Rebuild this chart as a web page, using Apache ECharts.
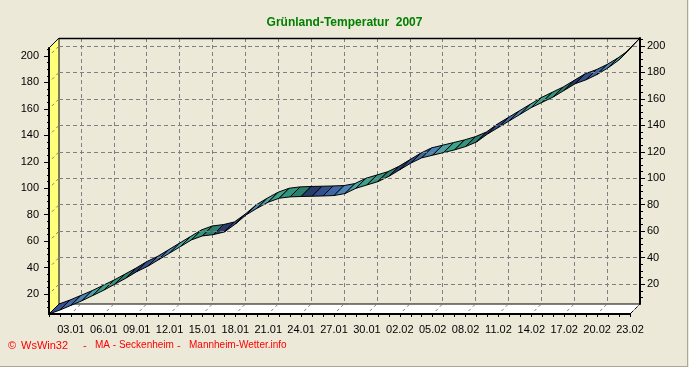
<!DOCTYPE html>
<html><head><meta charset="utf-8">
<script src="https://cdn.jsdelivr.net/npm/echarts@6/dist/echarts.min.js"></script>
<style>
html,body{margin:0;padding:0;background:#ECE9D8;}
#c{width:689px;height:367px;position:absolute;left:0;top:0;}
#f{position:absolute;left:0;top:0;width:688px;height:367px;box-sizing:border-box;border-right:1px solid #ACA899;border-bottom:1px solid #ACA899;pointer-events:none;}
</style>
</head><body><div id="c"></div><div id="f"></div>
<script>
// ---- data ----
const dates = ['01.01','02.01','03.01','04.01','05.01','06.01','07.01','08.01','09.01','10.01',
  '11.01','12.01','13.01','14.01','15.01','16.01','17.01','18.01','19.01','20.01',
  '21.01','22.01','23.01','24.01','25.01','26.01','27.01','28.01','29.01','30.01','31.01',
  '01.02','02.02','03.02','04.02','05.02','06.02','07.02','08.02','09.02','10.02',
  '11.02','12.02','13.02','14.02','15.02','16.02','17.02','18.02','19.02','20.02',
  '21.02','22.02','23.02'];
const values = [5, 8, 11.5, 15, 19, 23, 27.5, 32, 37, 41,
  46, 51, 56, 61, 64, 65, 67, 73, 80, 85,
  89.5, 92.5, 93.5, 93.8, 94, 94.2, 94.5, 96, 100, 102.5, 105,
  109, 114, 119, 123, 125, 127, 129, 131.5, 135, 141,
  146, 151, 156, 161, 165, 169, 174, 179, 182, 186,
  191, 197, 206];
const yTicks = [20, 40, 60, 80, 100, 120, 140, 160, 180, 200];
const titleText = 'Grünland-Temperatur  2007';

// ---- style / layout ----
const YMIN = 5, YMAX = 206;
const DX = 10, DY = 10;
const N = dates.length;
const minorTicks = [];
for (let v = 10; v <= 205; v += 5) minorTicks.push(v);
const PALETTE = ['#283c6c', '#33508e', '#3f67a6', '#4a84b4', '#4aa2a6', '#3ca48c', '#32947e', '#2a806e'];
const FONT = '"Liberation Sans", Arial, sans-serif';
const showIdx = (i) => i % 3 === 2;

const ribbonData = values.slice(0, N - 1).map((v, i) => [i, v, values[i + 1]]);

function renderRibbon(params, api) {
  const i = api.value(0);
  const p0 = api.coord([i, api.value(1)]);
  const p1 = api.coord([i + 1, api.value(2)]);
  return {
    type: 'polygon',
    shape: { points: [p0, p1, [p1[0] + DX, p1[1] - DY], [p0[0] + DX, p0[1] - DY]] },
    style: { fill: PALETTE[(i + 1) % PALETTE.length], stroke: '#000', lineWidth: 1 }
  };
}

const chart = echarts.init(document.getElementById('c'), null, { renderer: 'canvas' });
chart.setOption({
  backgroundColor: '#ECE9D8',
  animation: false,
  title: {
    text: titleText, left: 'center', top: 12,
    textStyle: { color: '#008000', fontSize: 12, fontWeight: 'bold', fontFamily: FONT }
  },
  grid: [
    { left: 49, top: 48, width: 581, height: 266 },
    { left: 59, top: 38, width: 581, height: 266 }
  ],
  xAxis: [
    { type: 'category', gridIndex: 0, data: dates, boundaryGap: false, z: 10,
      axisLine: { lineStyle: { color: '#000', width: 2 } },
      axisTick: { interval: 0, length: 3, lineStyle: { color: '#000' } },
      axisLabel: { interval: (i) => showIdx(i), margin: 10, color: '#000', fontSize: 11, fontFamily: FONT },
      splitLine: { show: false } },
    { type: 'category', gridIndex: 1, data: dates, boundaryGap: false,
      axisLine: { show: false }, axisTick: { show: false }, axisLabel: { show: false },
      splitLine: { show: true, interval: (i) => showIdx(i), lineStyle: { color: '#808080', type: [4, 3], width: 1 } } }
  ],
  yAxis: [
    { type: 'value', gridIndex: 0, min: YMIN, max: YMAX, splitNumber: 10, position: 'left', z: 10,
      axisLine: { show: true, lineStyle: { color: '#000', width: 2 } },
      axisTick: { show: true, length: 5, customValues: yTicks, lineStyle: { color: '#000' } },
      axisLabel: { customValues: yTicks, margin: 10, color: '#000', fontSize: 11, fontFamily: FONT },
      splitLine: { show: false } },
    { type: 'value', gridIndex: 0, min: YMIN, max: YMAX, position: 'left', z: 10,
      axisLine: { show: false },
      axisTick: { show: true, length: 2, customValues: minorTicks, lineStyle: { color: '#000' } },
      axisLabel: { show: false }, splitLine: { show: false } },
    { type: 'value', gridIndex: 1, min: YMIN, max: YMAX, splitNumber: 10, position: 'right', z: 10,
      axisLine: { show: true, lineStyle: { color: '#000', width: 2 } },
      axisTick: { show: true, length: 5, customValues: yTicks, lineStyle: { color: '#000' } },
      axisLabel: { customValues: yTicks, margin: 7, color: '#000', fontSize: 11, fontFamily: FONT },
      splitLine: { show: true, lineStyle: { color: '#808080', type: [4, 3], width: 1 } } },
    { type: 'value', gridIndex: 1, min: YMIN, max: YMAX, position: 'right', z: 10,
      axisLine: { show: false },
      axisTick: { show: true, length: 3, customValues: minorTicks, lineStyle: { color: '#000' } },
      axisLabel: { show: false }, splitLine: { show: false } }
  ],
  series: [
    { type: 'custom', name: 'Grünland-Temperatur', xAxisIndex: 0, yAxisIndex: 0, z: 3, clip: false,
      renderItem: renderRibbon, encode: { x: 0, y: 1 }, data: ribbonData }
  ]
});

// walls and floor, positioned through the axes' own scales
const px = (i, v) => chart.convertToPixel({ gridIndex: 0 }, [i, v]);
const off = p => [p[0] + DX, p[1] - DY];
const A = px(0, YMIN), B = px(0, YMAX), C = px(N - 1, YMIN), D = px(N - 1, YMAX);
const g = [
  { type: 'polygon', z: 1, shape: { points: [A, B, off(B), off(A)] }, style: { fill: '#FFFF7A', stroke: '#000', lineWidth: 1 } },
  { type: 'polygon', z: 1, shape: { points: [A, C, off(C), off(A)] }, style: { fill: '#FFFFFF', stroke: '#000', lineWidth: 1 } },
  { type: 'line', z: 1, shape: { x1: off(B)[0], y1: off(B)[1] + 0.5, x2: off(D)[0], y2: off(D)[1] + 0.5 }, style: { stroke: '#000', lineWidth: 1.5 } }
];
yTicks.forEach(v => {
  const p = px(0, v);
  g.push({ type: 'line', z: 2, shape: { x1: p[0] + 3, y1: p[1] - 3, x2: p[0] + DX, y2: p[1] - DY },
    style: { stroke: '#808080', lineWidth: 1, lineDash: [3, 3] } });
});
for (let i = 0; i < N; i++) {
  if (!showIdx(i)) continue;
  const p = px(i, YMIN);
  g.push({ type: 'line', z: 2, shape: { x1: p[0] + 3, y1: p[1] - 3, x2: p[0] + DX, y2: p[1] - DY },
    style: { stroke: '#808080', lineWidth: 1, lineDash: [3, 3] } });
}
g.push(
  { type: 'text', z: 5, left: 8, top: 340, style: { text: '©', fill: '#FF0000', font: '11px ' + FONT } },
  { type: 'text', z: 5, left: 21, top: 340, style: { text: 'WsWin32', fill: '#FF0000', font: '11px ' + FONT } },
  { type: 'text', z: 5, left: 83, top: 340, style: { text: '-', fill: '#FF0000', font: '11px ' + FONT } },
  { type: 'text', z: 5, left: 95, top: 340, style: { text: 'MA - Seckenheim', fill: '#FF0000', font: '10px ' + FONT } },
  { type: 'text', z: 5, left: 177, top: 340, style: { text: '-', fill: '#FF0000', font: '11px ' + FONT } },
  { type: 'text', z: 5, left: 189, top: 340, style: { text: 'Mannheim-Wetter.info', fill: '#FF0000', font: '10px ' + FONT } }
);
chart.setOption({ graphic: g });
</script>
</body></html>
